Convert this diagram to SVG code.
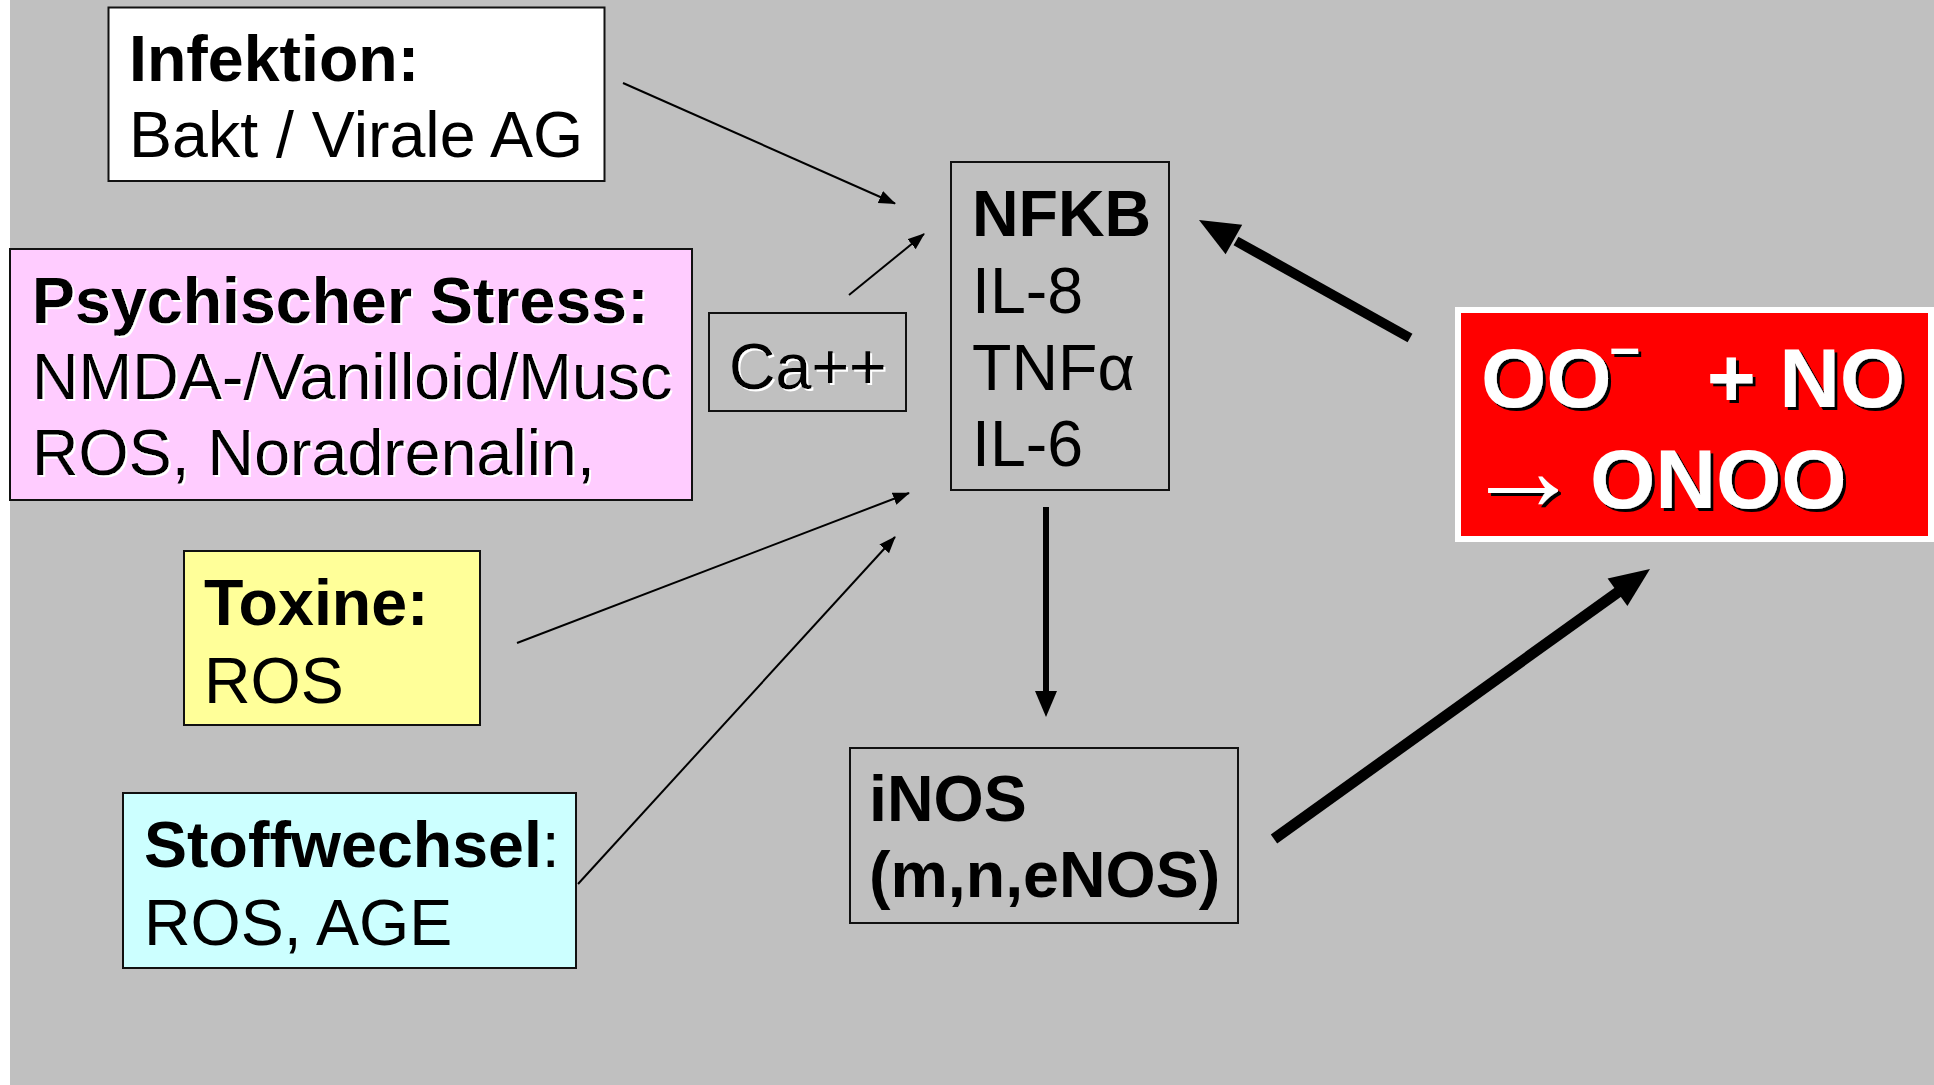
<svg xmlns="http://www.w3.org/2000/svg" width="1934" height="1085" viewBox="0 0 1934 1085">
<defs>
<style>
.t{font-family:"Liberation Sans",Arial,Helvetica,sans-serif;font-size:64.5px;fill:#000}
.b{font-weight:bold}
.box{stroke:#111;stroke-width:2}
.red{font-family:"Liberation Sans",Arial,Helvetica,sans-serif;font-size:84px;font-weight:bold;fill:#FFFFFF}
.thin{stroke:#000;stroke-width:2;fill:none}
</style>
<filter id="shw" x="-5%" y="-5%" width="110%" height="120%">
<feDropShadow dx="2" dy="2" stdDeviation="0" flood-color="#FFFFFF" flood-opacity="1"/>
</filter>
<filter id="shb" x="-5%" y="-5%" width="110%" height="120%">
<feDropShadow dx="3" dy="3" stdDeviation="0" flood-color="#000000" flood-opacity="1"/>
</filter>
<marker id="ah" markerUnits="userSpaceOnUse" markerWidth="18" markerHeight="14" refX="16" refY="6.5" orient="auto" viewBox="0 0 18 14">
<path d="M0,0 L17,6.5 L0,13 z" fill="#000"/>
</marker>
</defs>
<rect x="0" y="0" width="1934" height="1085" fill="#C0C0C0"/>
<rect x="0" y="0" width="10" height="1085" fill="#FFFFFF"/>

<g id="node-infektion">
<rect class="box" x="108.5" y="7.5" width="496" height="173.5" fill="#FFFFFF"/>
<text class="t b" x="129" y="81">Infektion:</text>
<text class="t" x="129" y="157">Bakt / Virale AG</text>
</g>

<g id="node-psych">
<rect class="box" x="10" y="249" width="682" height="251" fill="#FFCCFF"/>
<g filter="url(#shw)">
<text class="t b" x="32" y="323">Psychischer Stress:</text>
<text class="t" x="32" y="399">NMDA-/Vanilloid/Musc</text>
<text class="t" x="32" y="475">ROS, Noradrenalin,</text>
</g>
</g>

<g id="node-ca">
<rect class="box" x="709" y="313" width="197" height="98" fill="none"/>
<text class="t" x="729" y="389" filter="url(#shw)">Ca++</text>
</g>

<g id="node-nfkb">
<rect class="box" x="951" y="162" width="218" height="328" fill="none"/>
<text class="t b" x="972" y="236">NFKB</text>
<text class="t" x="972" y="313">IL-8</text>
<text class="t" x="972" y="390">TNFα</text>
<text class="t" x="972" y="466">IL-6</text>
</g>

<g id="node-toxine">
<rect class="box" x="184" y="551" width="296" height="174" fill="#FFFF99"/>
<text class="t b" x="204" y="625">Toxine:</text>
<text class="t" x="204" y="703">ROS</text>
</g>

<g id="node-stoffwechsel">
<rect class="box" x="123" y="793" width="453" height="175" fill="#CCFFFF"/>
<text class="t" x="144" y="867"><tspan class="b">Stoffwechsel</tspan>:</text>
<text class="t" x="144" y="945">ROS, AGE</text>
</g>

<g id="node-inos">
<rect class="box" x="850" y="748" width="388" height="175" fill="none"/>
<text class="t b" x="869" y="821">iNOS</text>
<text class="t b" x="869" y="897">(m,n,eNOS)</text>
</g>

<g id="node-onoo">
<rect x="1455" y="307" width="479" height="235" fill="#FFFFFF"/>
<rect x="1461" y="313" width="467" height="223" fill="#FF0000"/>
<g filter="url(#shb)">
<text class="red" x="1481" y="407">OO<tspan font-size="54" dx="-2" dy="-41">–</tspan><tspan dx="67" dy="41">+ NO</tspan></text>
<text class="red" x="1464" y="510"><tspan font-size="118">→</tspan><tspan x="1590" y="508">ONOO</tspan></text>
</g>
</g>

<g id="connectors">
<line class="thin" x1="623" y1="83" x2="895" y2="203.5" marker-end="url(#ah)"/>
<line class="thin" x1="849" y1="295" x2="924" y2="234" marker-end="url(#ah)"/>
<line class="thin" x1="517" y1="643" x2="909" y2="493" marker-end="url(#ah)"/>
<line class="thin" x1="578" y1="884" x2="895" y2="537" marker-end="url(#ah)"/>
<line x1="1046" y1="507" x2="1046" y2="695" stroke="#000" stroke-width="6"/>
<polygon points="1035,691 1057,691 1046,717" fill="#000"/>
<line x1="1274" y1="839" x2="1621" y2="590" stroke="#000" stroke-width="11"/>
<polygon points="1650,569 1627.4,606.1 1607.6,578.5" fill="#000"/>
<line x1="1410" y1="338" x2="1236" y2="241" stroke="#000" stroke-width="10"/>
<polygon points="1199,220 1242.2,224.7 1225.6,254.3" fill="#000"/>
</g>
</svg>
